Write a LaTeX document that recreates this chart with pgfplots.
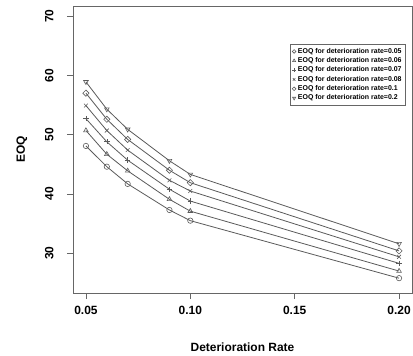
\documentclass[border=0pt]{standalone}
\usepackage{pgfplots}
\pgfplotsset{compat=1.18}
\usepackage{fontspec}
\setmainfont{Liberation Sans}
\definecolor{ln}{HTML}{5A5A5A}
\definecolor{ax}{HTML}{666666}
\pgfplotsset{smalldiamondlegend/.style={legend image code/.code={\draw[#1, mark size=1.3bp, line width=0.4bp] plot coordinates {(0.1cm,0cm)};}}}
\begin{document}
\begin{tikzpicture}
\begin{axis}[
  scale only axis,
  width=339bp, height=287bp,
  xmin=0.0438, xmax=0.2062,
  ymin=23.3, ymax=71.7,
  xtick={0.05,0.10,0.15,0.20},
  xticklabels={0.05,0.10,0.15,0.20},
  ytick={30,40,50,60,70},
  /pgf/number format/assume math mode=true,
  tick align=outside,
  major tick length=6bp,
  tick style={ax, line width=0.7bp},
  axis line style={ax, line width=0.8bp},
  xtick pos=bottom, ytick pos=left,
  ticklabel style={font=\fontsize{12}{14}\selectfont\bfseries},
  yticklabel style={rotate=90, anchor=south, yshift=10bp},
  xticklabel style={yshift=-4bp},
  xlabel={Deterioration Rate},
  ylabel={EOQ},
  xlabel style={font=\fontsize{12}{14}\selectfont\bfseries, at={(axis description cs:0.5,0)}, anchor=center, yshift=-54bp},
  ylabel style={font=\fontsize{12}{14}\selectfont\bfseries, at={(axis description cs:0,0.5)}, anchor=center, yshift=51bp},
  legend style={at={(0.982,0.868)}, anchor=north east, draw=ax, line width=0.6bp,
    font=\fontsize{7}{8}\selectfont\bfseries, row sep=-1.2pt, inner sep=2pt},
  legend cell align=left,
  legend image code/.code={\draw[#1, mark size=1.8bp, line width=0.4bp] plot coordinates {(0.1cm,0cm)};},
  every axis plot/.append style={ln, line width=0.8bp, mark size=2.7bp, mark options={solid, fill=none, line width=0.6bp}},
]
\addplot[mark=o] coordinates {(0.05,48.1)(0.06,44.6)(0.07,41.7)(0.09,37.3)(0.10,35.5)(0.20,25.8)};
\addlegendentry{EOQ for deterioration rate=0.05}
\addplot[mark=triangle] coordinates {(0.05,50.7)(0.06,46.7)(0.07,43.9)(0.09,39.1)(0.10,37.1)(0.20,27.0)};
\addlegendentry{EOQ for deterioration rate=0.06}
\addplot[mark=+] coordinates {(0.05,52.7)(0.06,48.8)(0.07,45.7)(0.09,40.8)(0.10,38.8)(0.20,28.3)};
\addlegendentry{EOQ for deterioration rate=0.07}
\addplot[mark=x] coordinates {(0.05,54.9)(0.06,50.7)(0.07,47.4)(0.09,42.3)(0.10,40.5)(0.20,29.4)};
\addlegendentry{EOQ for deterioration rate=0.08}
\addplot[mark=square, mark size=2.2bp, mark options={solid, fill=none, line width=0.6bp, rotate=45}, smalldiamondlegend] coordinates {(0.05,57.0)(0.06,52.6)(0.07,49.2)(0.09,44.0)(0.10,41.9)(0.20,30.4)};
\addlegendentry{EOQ for deterioration rate=0.1}
\addplot[mark=triangle, mark options={solid, fill=none, line width=0.6bp, rotate=180}] coordinates {(0.05,58.9)(0.06,54.3)(0.07,50.9)(0.09,45.6)(0.10,43.3)(0.20,31.6)};
\addlegendentry{EOQ for deterioration rate=0.2}
\coordinate (A) at (rel axis cs:0,0);
\coordinate (B) at (rel axis cs:1,1);
\end{axis}
\pgfresetboundingbox
\path (A) ++(-73bp,-63bp) coordinate (C);
\path (B) ++(1bp,6bp) coordinate (D);
\path (C) rectangle (D);
\end{tikzpicture}
\end{document}
